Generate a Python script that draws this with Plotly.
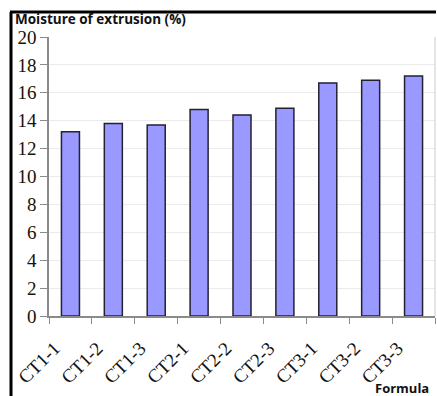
import plotly.graph_objects as go

categories = ["CT1-1", "CT1-2", "CT1-3", "CT2-1", "CT2-2", "CT2-3", "CT3-1", "CT3-2", "CT3-3"]
moisture = [13.2, 13.8, 13.7, 14.8, 14.4, 14.9, 16.7, 16.9, 17.2]
y_ticks = [0, 2, 4, 6, 8, 10, 12, 14, 16, 18, 20]

W, H = 437, 396
ml, mr, mt, mb = 49, 2, 37, 80
pw, ph = W - ml - mr, H - mt - mb

def px_x(x):
    return (x - ml) / pw

def px_y(y):
    return (H - mb - y) / ph

fig = go.Figure()
fig.add_trace(go.Bar(
    x=categories, y=moisture, width=0.42,
    marker=dict(color="#9999FF", line=dict(color="#222233", width=1.5)),
    hoverinfo="skip",
))

fig.update_layout(
    width=W, height=H,
    margin=dict(l=ml, r=mr, t=mt, b=mb),
    paper_bgcolor="white", plot_bgcolor="white",
    showlegend=False,
    xaxis=dict(
        type="category", range=[-0.5, 8.5], tickangle=-45,
        tickfont=dict(family="Liberation Serif", size=19, color="#111"),
        showline=True, linecolor="#8a8a8a", linewidth=1.5,
        ticks="outside", ticklen=6, tickcolor="#8a8a8a", tickson="boundaries",
        ticklabelstandoff=12, ticklabelshift=-16,
        showgrid=False, automargin=False,
    ),
    yaxis=dict(
        range=[0, 20], tickvals=y_ticks,
        tickfont=dict(family="Liberation Serif", size=19, color="#1a1208"),
        showline=True, linecolor="#8a8a8a", linewidth=1.5,
        ticks="outside", ticklen=7, tickcolor="#8a8a8a",
        showgrid=True, gridcolor="#ebebeb", gridwidth=1,
        zeroline=False, automargin=False,
    ),
    annotations=[
        dict(text="<b>Moisture of extrusion (%)</b>", xref="paper", yref="paper",
             x=px_x(13), y=px_y(19), xanchor="left", yanchor="middle", showarrow=False,
             font=dict(family="Open Sans", size=13.5, color="#111")),
        dict(text="<b>Formula</b>", xref="paper", yref="paper",
             x=px_x(431), y=px_y(388), xanchor="right", yanchor="middle", showarrow=False,
             font=dict(family="Open Sans", size=13, color="#111")),
    ],
    shapes=[
        dict(type="line", xref="paper", yref="paper", x0=px_x(11), x1=px_x(11),
             y0=px_y(12), y1=px_y(396), line=dict(color="black", width=3)),
        dict(type="line", xref="paper", yref="paper", x0=px_x(10), x1=px_x(436),
             y0=px_y(12), y1=px_y(12), line=dict(color="black", width=3)),
        dict(type="line", xref="paper", yref="paper", x0=px_x(435), x1=px_x(435),
             y0=px_y(37), y1=px_y(316), line=dict(color="#cccccc", width=1)),
    ],
)

fig.write_html("out.html", config={"displayModeBar": False},
               post_script="document.body.style.margin='0';document.body.style.overflow='hidden';")
